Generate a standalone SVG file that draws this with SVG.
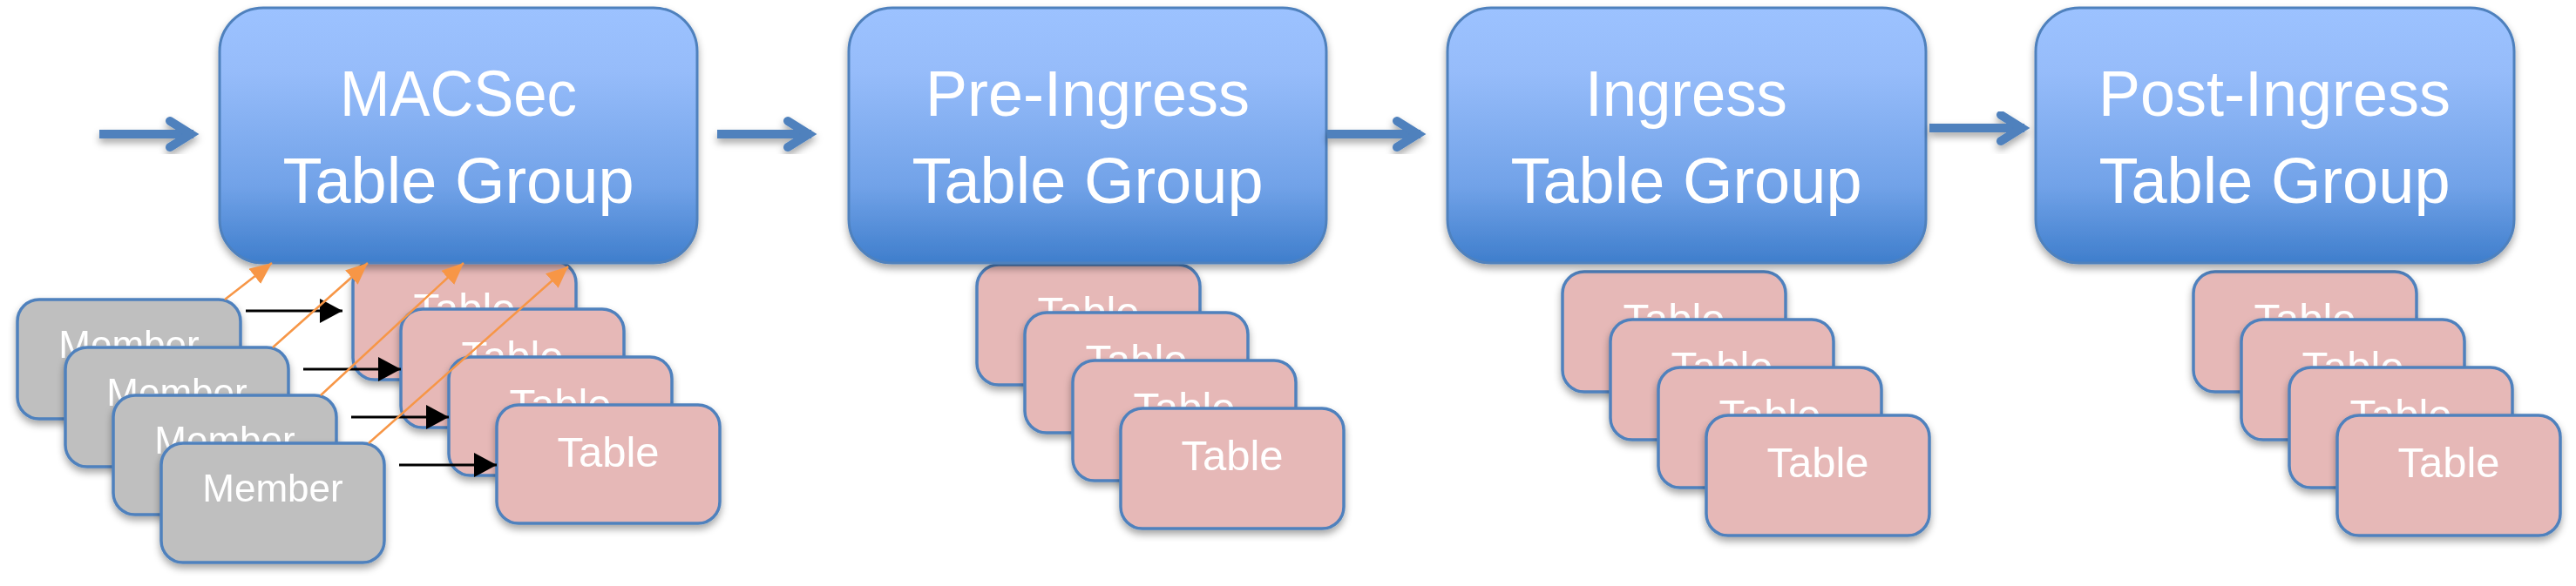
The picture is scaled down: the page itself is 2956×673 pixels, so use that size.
<svg xmlns="http://www.w3.org/2000/svg" width="2956" height="673" viewBox="0 0 2956 673">
<defs>
  <linearGradient id="gBlue" x1="0" y1="0" x2="0" y2="1">
    <stop offset="0" stop-color="#9CC2FF"/>
    <stop offset="0.25" stop-color="#96BCFA"/>
    <stop offset="0.7" stop-color="#71A2E8"/>
    <stop offset="1" stop-color="#3F7ECC"/>
  </linearGradient>
  <filter id="sh" x="-10%" y="-10%" width="120%" height="130%">
    <feDropShadow dx="0" dy="5" stdDeviation="4" flood-color="#000" flood-opacity="0.35"/>
  </filter>
  <marker id="mBlack" markerUnits="userSpaceOnUse" markerWidth="28" markerHeight="30" refX="26" refY="14" orient="auto">
    <path d="M0,0 L26,14 L0,28 Z" fill="#000"/>
  </marker>
  <marker id="mOrange" markerUnits="userSpaceOnUse" markerWidth="28" markerHeight="24" refX="25" refY="11" orient="auto">
    <path d="M0,0 L25,11 L0,22 Z" fill="#F79646"/>
  </marker>
  <style>
    .grp rect { fill: url(#gBlue); stroke: #4F81BD; stroke-width: 3; }
    .tbl rect { fill: #E6B8B7; stroke: #4F81BD; stroke-width: 3.5; }
    .mem rect { fill: #BFBFBF; stroke: #4F81BD; stroke-width: 3.5; }
    .t { font-family: "Liberation Sans", Arial, sans-serif; fill: #FFFFFF; text-anchor: middle; }
    .title { font-size: 74px; }
    .small { font-size: 49px; }
    .msm { font-size: 44px; }
    .flow { fill: none; stroke: #4F81BD; stroke-width: 10; }
    .chev { fill: none; stroke: #4F81BD; stroke-width: 10; stroke-linecap: round; stroke-linejoin: miter; }
    .blk { stroke: #000; stroke-width: 3; fill: none; }
    .org { stroke: #F79646; stroke-width: 2.5; fill: none; }
  </style>
</defs>
<rect width="2956" height="673" fill="#FFFFFF"/>

<!-- MACSec tables -->
<g id="macsec-table-1" class="tbl" filter="url(#sh)"><rect x="405" y="300" width="256" height="136" rx="25"/><text class="t small" x="533" y="371">Table</text></g>
<g id="macsec-table-2" class="tbl" filter="url(#sh)"><rect x="460" y="355" width="256" height="136" rx="25"/><text class="t small" x="588" y="426">Table</text></g>
<g id="macsec-table-3" class="tbl" filter="url(#sh)"><rect x="515" y="410" width="256" height="136" rx="25"/><text class="t small" x="643" y="481">Table</text></g>
<g id="macsec-table-4" class="tbl" filter="url(#sh)"><rect x="570" y="465" width="256" height="136" rx="25"/><text class="t small" x="698" y="536">Table</text></g>

<!-- Pre-Ingress tables -->
<g id="pre-table-1" class="tbl" filter="url(#sh)"><rect x="1121" y="304" width="256" height="138" rx="25"/><text class="t small" x="1249" y="375">Table</text></g>
<g id="pre-table-2" class="tbl" filter="url(#sh)"><rect x="1176" y="359" width="256" height="138" rx="25"/><text class="t small" x="1304" y="430">Table</text></g>
<g id="pre-table-3" class="tbl" filter="url(#sh)"><rect x="1231" y="414" width="256" height="138" rx="25"/><text class="t small" x="1359" y="485">Table</text></g>
<g id="pre-table-4" class="tbl" filter="url(#sh)"><rect x="1286" y="469" width="256" height="138" rx="25"/><text class="t small" x="1414" y="540">Table</text></g>

<!-- Ingress tables -->
<g id="ing-table-1" class="tbl" filter="url(#sh)"><rect x="1793" y="312" width="256" height="138" rx="25"/><text class="t small" x="1921" y="383">Table</text></g>
<g id="ing-table-2" class="tbl" filter="url(#sh)"><rect x="1848" y="367" width="256" height="138" rx="25"/><text class="t small" x="1976" y="438">Table</text></g>
<g id="ing-table-3" class="tbl" filter="url(#sh)"><rect x="1903" y="422" width="256" height="138" rx="25"/><text class="t small" x="2031" y="493">Table</text></g>
<g id="ing-table-4" class="tbl" filter="url(#sh)"><rect x="1958" y="477" width="256" height="138" rx="25"/><text class="t small" x="2086" y="548">Table</text></g>

<!-- Post-Ingress tables -->
<g id="post-table-1" class="tbl" filter="url(#sh)"><rect x="2517" y="312" width="256" height="138" rx="25"/><text class="t small" x="2645" y="383">Table</text></g>
<g id="post-table-2" class="tbl" filter="url(#sh)"><rect x="2572" y="367" width="256" height="138" rx="25"/><text class="t small" x="2700" y="438">Table</text></g>
<g id="post-table-3" class="tbl" filter="url(#sh)"><rect x="2627" y="422" width="256" height="138" rx="25"/><text class="t small" x="2755" y="493">Table</text></g>
<g id="post-table-4" class="tbl" filter="url(#sh)"><rect x="2682" y="477" width="256" height="138" rx="25"/><text class="t small" x="2810" y="548">Table</text></g>

<!-- Table groups -->
<g id="macsec-group" class="grp" filter="url(#sh)"><rect x="252" y="9" width="548" height="293" rx="50"/><text class="t title" x="526" y="133" textLength="272" lengthAdjust="spacingAndGlyphs">MACSec</text><text class="t title" x="526" y="233">Table Group</text></g>
<g id="pre-ingress-group" class="grp" filter="url(#sh)"><rect x="974" y="9" width="548" height="293" rx="50"/><text class="t title" x="1248" y="133" textLength="372" lengthAdjust="spacingAndGlyphs">Pre-Ingress</text><text class="t title" x="1248" y="233">Table Group</text></g>
<g id="ingress-group" class="grp" filter="url(#sh)"><rect x="1661" y="9" width="549" height="293" rx="50"/><text class="t title" x="1935" y="133" textLength="232" lengthAdjust="spacingAndGlyphs">Ingress</text><text class="t title" x="1935" y="233">Table Group</text></g>
<g id="post-ingress-group" class="grp" filter="url(#sh)"><rect x="2336" y="9" width="549" height="293" rx="50"/><text class="t title" x="2610" y="133" textLength="404" lengthAdjust="spacingAndGlyphs">Post-Ingress</text><text class="t title" x="2610" y="233">Table Group</text></g>

<!-- Members -->
<g id="member-1" class="mem" filter="url(#sh)"><rect x="20" y="344" width="256" height="137" rx="25"/><text class="t msm" x="148" y="411">Member</text></g>
<g id="member-2" class="mem" filter="url(#sh)"><rect x="75" y="399" width="256" height="137" rx="25"/><text class="t msm" x="203" y="466">Member</text></g>
<g id="member-3" class="mem" filter="url(#sh)"><rect x="130" y="454" width="256" height="137" rx="25"/><text class="t msm" x="258" y="521">Member</text></g>
<g id="member-4" class="mem" filter="url(#sh)"><rect x="185" y="509" width="256" height="137" rx="25"/><text class="t msm" x="313" y="576">Member</text></g>

<!-- Connectors -->
<g id="connectors">
  <g filter="url(#sh)">
    <line class="flow" x1="114" y1="154" x2="222" y2="154"/>
    <polyline class="chev" points="195,139 219,154 195,169"/>
    <line class="flow" x1="823" y1="154" x2="931" y2="154"/>
    <polyline class="chev" points="904,139 928,154 904,169"/>
    <line class="flow" x1="1523" y1="154" x2="1630" y2="154"/>
    <polyline class="chev" points="1603,139 1627,154 1603,169"/>
    <line class="flow" x1="2214" y1="147" x2="2323" y2="147"/>
    <polyline class="chev" points="2296,132 2320,147 2296,162"/>
  </g>
  <line class="blk" x1="282" y1="357" x2="393" y2="357" marker-end="url(#mBlack)"/>
  <line class="blk" x1="348" y1="424" x2="460" y2="424" marker-end="url(#mBlack)"/>
  <line class="blk" x1="403" y1="479" x2="515" y2="479" marker-end="url(#mBlack)"/>
  <line class="blk" x1="458" y1="534" x2="570" y2="534" marker-end="url(#mBlack)"/>
  <line class="org" x1="258" y1="344" x2="312" y2="302" marker-end="url(#mOrange)"/>
  <line class="org" x1="313" y1="399" x2="422" y2="302" marker-end="url(#mOrange)"/>
  <line class="org" x1="368" y1="454" x2="532" y2="302" marker-end="url(#mOrange)"/>
  <line class="org" x1="423" y1="509" x2="652" y2="306" marker-end="url(#mOrange)"/>
</g>
</svg>
